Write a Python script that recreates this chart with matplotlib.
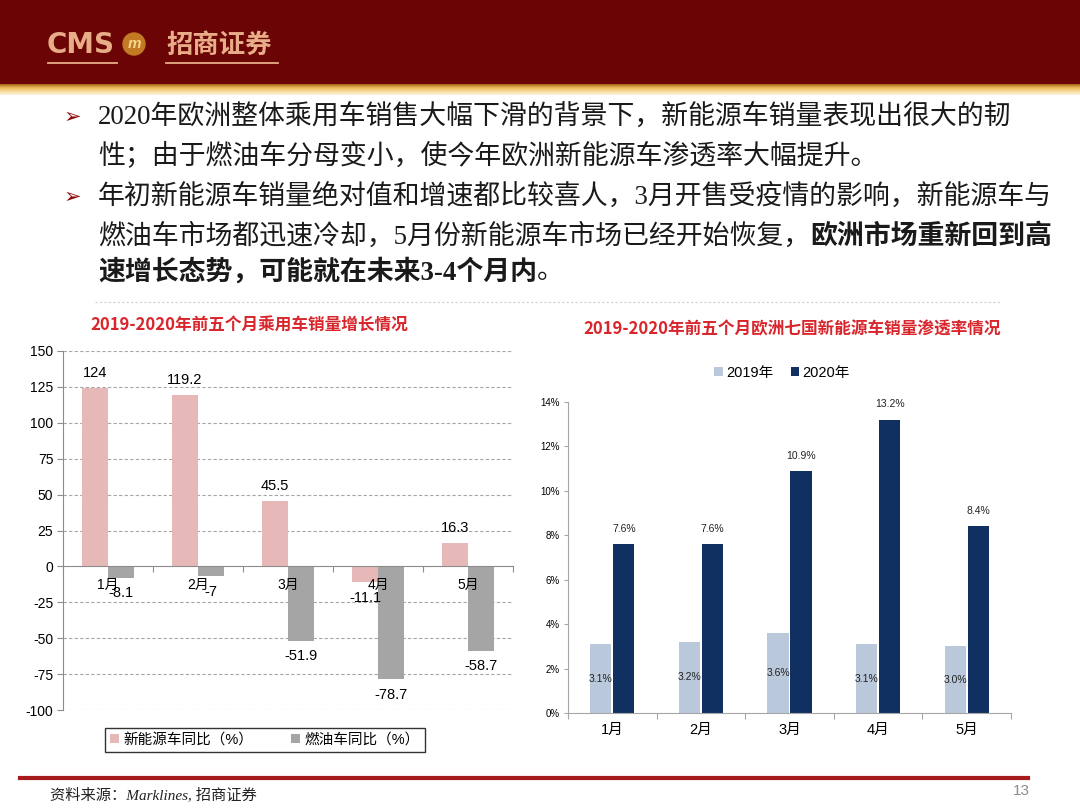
import matplotlib
matplotlib.use("Agg")
import matplotlib.pyplot as plt
import numpy as np
from matplotlib.patches import Rectangle, Circle

plt.rcParams['font.family'] = ['Liberation Sans', 'Noto Sans CJK SC', 'DejaVu Sans']
plt.rcParams['axes.unicode_minus'] = False
CJK = ['Noto Sans CJK SC', 'DejaVu Sans']
BODY = ['Liberation Serif', 'Noto Sans CJK SC', 'DejaVu Sans']

# ---- data ----
months = ['1月', '2月', '3月', '4月', '5月']
nev_yoy = [124, 119.2, 45.5, -11.1, 16.3]       # 新能源车同比（%）
ice_yoy = [-8.1, -7, -51.9, -78.7, -58.7]       # 燃油车同比（%）
pen_2019 = [3.1, 3.2, 3.6, 3.1, 3.0]            # 渗透率 2019年 (%)
pen_2020 = [7.6, 7.6, 10.9, 13.2, 8.4]          # 渗透率 2020年 (%)

PINK, GREY = '#e6b9b8', '#a5a5a5'
LIGHT, NAVY = '#b9c8da', '#0f3060'
TITLE_RED = '#d9262c'

fig = plt.figure(figsize=(10.8, 8.1), dpi=100)

# background / slide frame in pixel coordinates
bg = fig.add_axes([0, 0, 1, 1])
bg.add_patch(Rectangle((0, 0), 1080, 85, color='#6b0404', zorder=0))
grad = np.linspace(0, 1, 20)[:, None]
bg.imshow(grad, extent=[0, 1080, 95, 84], aspect='auto', cmap=matplotlib.colors.LinearSegmentedColormap.from_list(
    'gold', ['#a86a1c', '#e9b95a', '#f6dc9a', '#fbf1dc']), zorder=1)
bg.set_xlim(0, 1080)
bg.set_ylim(810, 0)
bg.axis('off')

logo_c = '#e8ad88'
bg.text(47, 45, 'CMS', color=logo_c, fontsize=20, fontweight='bold', va='center', ha='left',
        family=['DejaVu Sans'])
bg.add_patch(Circle((134, 44), 11, color='#c47a22', zorder=2))
bg.text(134, 44, 'm', color='#f4d68a', fontsize=11, fontweight='bold', style='italic', ha='center', va='center')
bg.text(166, 45, '招商证券', color=logo_c, fontsize=19, fontweight='bold', va='center', ha='left', family=CJK)
bg.plot([48, 117], [63, 63], color=logo_c, lw=1.3)
bg.plot([166, 278], [63, 63], color=logo_c, lw=1.3)

# bullet text
FS = 19.4
txt_kw = dict(fontsize=FS, family=BODY, color='#1a1a1a', va='center', ha='left')
arrow_kw = dict(fontsize=15, family=['DejaVu Sans'], color='#8b0a0a', va='center', ha='left')
bg.text(64, 117, '➢', **arrow_kw)
bg.text(98, 117, '2020年欧洲整体乘用车销售大幅下滑的背景下，新能源车销量表现出很大的韧', **txt_kw)
bg.text(98, 157, '性；由于燃油车分母变小，使今年欧洲新能源车渗透率大幅提升。', **txt_kw)
bg.text(64, 197, '➢', **arrow_kw)
bg.text(98, 197, '年初新能源车销量绝对值和增速都比较喜人，3月开售受疫情的影响，新能源车与', **txt_kw)
t4 = bg.text(98, 237, '燃油车市场都迅速冷却，5月份新能源车市场已经开始恢复，', **txt_kw)
bg.annotate('欧洲市场重新回到高', xy=(1, 0.5), xycoords=t4, fontsize=FS, family=BODY, color='#1a1a1a',
            fontweight='bold', va='center', ha='left')
t5 = bg.text(98, 272, '速增长态势，可能就在未来3-4个月内', fontweight='bold', **txt_kw)
bg.annotate('。', xy=(1, 0.5), xycoords=t5, fontsize=FS, family=BODY, color='#1a1a1a', va='center', ha='left')

bg.plot([95, 1000], [302, 302], color='#cfcfcf', lw=0.8, ls=(0, (2, 2)))

# chart titles
bg.text(249, 326, '2019-2020年前五个月乘用车销量增长情况', color=TITLE_RED, fontsize=12,
        fontweight='bold', ha='center', va='center', family=CJK)
bg.text(792, 329, '2019-2020年前五个月欧洲七国新能源车销量渗透率情况', color=TITLE_RED, fontsize=12,
        fontweight='bold', ha='center', va='center', family=CJK)

# footer
bg.plot([20, 1028], [778, 778], color='#a61c1c', lw=3)
bg.text(1021, 791, '13', color='#8c8c8c', fontsize=11, ha='center', va='center')
bg.text(50, 795, '资料来源：Marklines, 招商证券', fontsize=11, style='italic', family=BODY,
        color='#222222', ha='left', va='center')

# ---- left chart: growth ----
x = np.arange(len(months))
w = 0.29
ax1 = fig.add_axes([63 / 1080, 1 - 710 / 810, 450 / 1080, 359 / 810])
ax1.set_xlim(-0.5, 4.5)
ax1.set_ylim(-100, 150)
for v in range(-100, 151, 25):
    if v != 0:
        ax1.axhline(v, color='#a6a6a6', lw=0.8, ls=(0, (3, 2)), zorder=0)
ax1.bar(x - w / 2, nev_yoy, w, color=PINK, label='新能源车同比（%）', zorder=1)
ax1.bar(x + w / 2, ice_yoy, w, color=GREY, label='燃油车同比（%）', zorder=1)
for xi, v in zip(x - w / 2, nev_yoy):
    ax1.annotate(f'{v:g}', (xi, v), xytext=(0, 11 if v > 0 else -11), textcoords='offset points',
                 ha='center', va='center', fontsize=10.5, zorder=3)
for xi, v in zip(x + w / 2, ice_yoy):
    ax1.annotate(f'{v:g}', (xi, v), xytext=(0, -11), textcoords='offset points',
                 ha='center', va='center', fontsize=10.5, zorder=3)

ax1.set_yticks(range(-100, 151, 25))
ax1.tick_params(axis='y', labelsize=10, length=4, color='#8c8c8c', pad=3)
for s in ['top', 'right']:
    ax1.spines[s].set_visible(False)
ax1.spines['left'].set_color('#8c8c8c')
ax1.spines['bottom'].set_position(('data', 0))
ax1.spines['bottom'].set_color('#8c8c8c')
ax1.set_xticks(np.arange(-0.5, 5, 1))
ax1.set_xticklabels([])
ax1.set_xticks(x, minor=True)
ax1.set_xticklabels(months, minor=True, fontsize=10)
ax1.tick_params(axis='x', which='major', length=4, color='#8c8c8c')
ax1.tick_params(axis='x', which='minor', length=0, pad=8)
ax1.patch.set_alpha(0)

leg1 = ax1.legend(loc='center', bbox_to_anchor=(265 / 1080, 1 - 740 / 810), bbox_transform=fig.transFigure,
                  ncol=2, frameon=True, fancybox=False, edgecolor='black', fontsize=10.5,
                  handlelength=0.6, handleheight=0.6, handletextpad=0.3, columnspacing=2.6, borderpad=0.35)
leg1.get_frame().set_linewidth(1.0)

# ---- right chart: penetration ----
w2 = 0.24
ax2 = fig.add_axes([568 / 1080, 1 - 713 / 810, 443 / 1080, 311 / 810])
ax2.set_xlim(-0.5, 4.5)
ax2.set_ylim(0, 14)
ax2.bar(x - 0.13, pen_2019, w2, color=LIGHT, label='2019年')
ax2.bar(x + 0.13, pen_2020, w2, color=NAVY, label='2020年')
for xi, v in zip(x - 0.13, pen_2019):
    ax2.text(xi, v / 2, f'{v:.1f}%', ha='center', va='center', fontsize=7.5, color='#222222')
for xi, v in zip(x + 0.13, pen_2020):
    ax2.annotate(f'{v:.1f}%', (xi, v), xytext=(0, 11), textcoords='offset points',
                 ha='center', va='center', fontsize=7.5, color='#222222')
ax2.set_yticks(range(0, 15, 2))
ax2.set_yticklabels([f'{v}%' for v in range(0, 15, 2)])
ax2.tick_params(axis='y', labelsize=7, length=3, color='#a6a6a6', pad=3)
for s in ['top', 'right']:
    ax2.spines[s].set_visible(False)
ax2.spines['left'].set_color('#a6a6a6')
ax2.spines['bottom'].set_color('#a6a6a6')
ax2.set_xticks(np.arange(-0.5, 5, 1))
ax2.set_xticklabels([])
ax2.set_xticks(x, minor=True)
ax2.set_xticklabels(months, minor=True, fontsize=10.5)
ax2.tick_params(axis='x', which='major', length=4, color='#a6a6a6')
ax2.tick_params(axis='x', which='minor', length=0, pad=7)
ax2.patch.set_alpha(0)
ax2.legend(loc='center', bbox_to_anchor=(782 / 1080, 1 - 373 / 810), bbox_transform=fig.transFigure,
           ncol=2, frameon=False, fontsize=10.5, handlelength=0.6, handleheight=0.6,
           handletextpad=0.2, columnspacing=1.2)

fig.savefig('out.png', dpi=100)
